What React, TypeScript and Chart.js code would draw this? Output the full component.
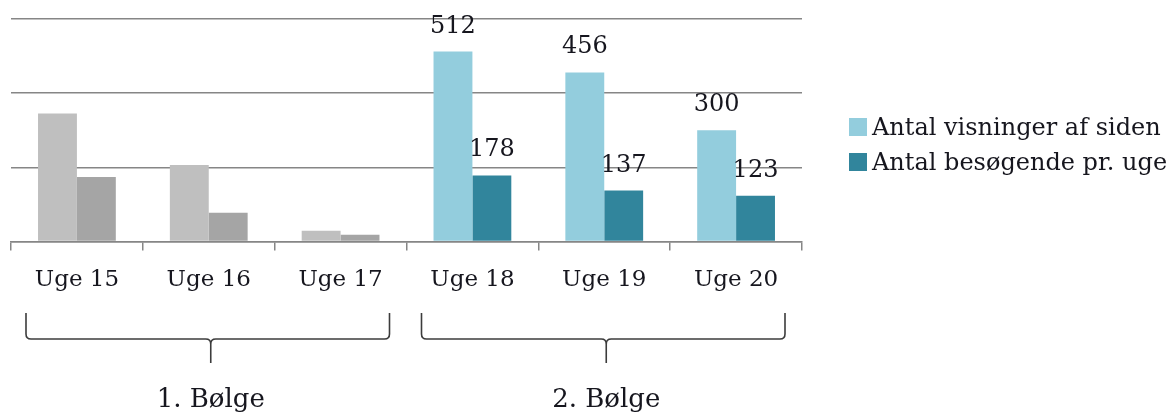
import React, { useEffect, useRef } from 'react';
import { Chart, registerables } from 'chart.js';

Chart.register(...registerables);

const categories = ['Uge 15', 'Uge 16', 'Uge 17', 'Uge 18', 'Uge 19', 'Uge 20'];
const visninger = [345, 206, 29, 512, 456, 300];
const besogende = [174, 77, 18, 178, 137, 123];
const seriesNames = ['Antal visninger af siden', 'Antal besøgende pr. uge'];
const groupLabels = ['1. Bølge', '2. Bølge'];
const groupStarts = [0, 3];
const groupEnds = [2, 5];
const yTicks = [0, 200, 400, 600];
const labelledFrom = 3;

const FONT = '"DejaVu Serif", serif';
const GRID = '#868686';
const TEXT = '#16161e';
const lightGrey = '#BFBFBF';
const darkGrey = '#A5A5A5';
const lightBlue = '#93CDDD';
const darkBlue = '#31859C';

const colorsFor = (past: string, cur: string) =>
  categories.map((_, i) => (i < labelledFrom ? past : cur));

const valueLabels = {
  id: 'valueLabels',
  afterDatasetsDraw(chart: any) {
    const ctx = chart.ctx;
    ctx.save();
    ctx.font = `24px ${FONT}`;
    ctx.fillStyle = TEXT;
    ctx.textAlign = 'center';
    ctx.textBaseline = 'alphabetic';
    chart.data.datasets.forEach((ds: any, di: number) => {
      const meta = chart.getDatasetMeta(di);
      meta.data.forEach((bar: any, i: number) => {
        if (i < labelledFrom) return;
        ctx.fillText(String(ds.data[i]), bar.x, bar.y - 19);
      });
    });
    ctx.restore();
  },
};

const brackets = {
  id: 'brackets',
  afterDraw(chart: any) {
    const ctx = chart.ctx;
    const x = chart.scales.x;
    const half = (x.getPixelForValue(1) - x.getPixelForValue(0)) / 2;
    const yTop = 313;
    const yMid = 339;
    const yTip = 363;
    const r = 5;
    ctx.save();
    ctx.strokeStyle = '#3c3c3c';
    ctx.lineWidth = 1.6;
    groupLabels.forEach((label, g) => {
      const left = x.getPixelForValue(groupStarts[g]) - half;
      const right = x.getPixelForValue(groupEnds[g]) + half;
      const x1 = left + 15;
      const x2 = right - 17;
      const cx = (left + right) / 2 + 2;
      ctx.beginPath();
      ctx.moveTo(x1, yTop);
      ctx.lineTo(x1, yMid - r);
      ctx.quadraticCurveTo(x1, yMid, x1 + r, yMid);
      ctx.lineTo(cx - r, yMid);
      ctx.quadraticCurveTo(cx, yMid, cx, yMid + r);
      ctx.lineTo(cx, yTip);
      ctx.moveTo(cx, yMid + r);
      ctx.quadraticCurveTo(cx, yMid, cx + r, yMid);
      ctx.lineTo(x2 - r, yMid);
      ctx.quadraticCurveTo(x2, yMid, x2, yMid - r);
      ctx.lineTo(x2, yTop);
      ctx.stroke();
      ctx.font = `26px ${FONT}`;
      ctx.fillStyle = TEXT;
      ctx.textAlign = 'center';
      ctx.textBaseline = 'alphabetic';
      ctx.fillText(label, cx, 407);
    });
    ctx.restore();
  },
};

const sideLegend = {
  id: 'sideLegend',
  afterDraw(chart: any) {
    const ctx = chart.ctx;
    ctx.save();
    ctx.font = `24px ${FONT}`;
    ctx.textAlign = 'left';
    ctx.textBaseline = 'alphabetic';
    const swatch = [lightBlue, darkBlue];
    chart.data.datasets.forEach((ds: any, i: number) => {
      const base = 135 + i * 35;
      ctx.fillStyle = swatch[i];
      ctx.fillRect(849, base - 17, 18, 18);
      ctx.fillStyle = TEXT;
      ctx.fillText(ds.label, 872, base);
    });
    ctx.restore();
  },
};

export default function App() {
  const ref = useRef<HTMLCanvasElement>(null);
  useEffect(() => {
    if (!ref.current) return;
    const chart = new Chart(ref.current, {
      type: 'bar',
      data: {
        labels: categories,
        datasets: [
          {
            label: seriesNames[0],
            data: visninger,
            backgroundColor: colorsFor(lightGrey, lightBlue),
            categoryPercentage: 0.59,
            barPercentage: 1,
          },
          {
            label: seriesNames[1],
            data: besogende,
            backgroundColor: colorsFor(darkGrey, darkBlue),
            categoryPercentage: 0.59,
            barPercentage: 1,
          },
        ],
      },
      options: {
        animation: false,
        responsive: false,
        maintainAspectRatio: false,
        layout: { padding: { left: 11, right: 374, top: 19, bottom: 106 } },
        plugins: { legend: { display: false }, tooltip: { enabled: false } },
        scales: {
          x: {
            grid: {
              display: true,
              offset: true,
              drawOnChartArea: false,
              drawTicks: true,
              tickLength: 9,
              color: GRID,
              lineWidth: 1.5,
            },
            border: { display: true, color: GRID, width: 1.5 },
            ticks: {
              color: TEXT,
              font: { family: FONT, size: 23 },
              padding: 16,
              maxRotation: 0,
            },
          },
          y: {
            min: yTicks[0],
            max: yTicks[yTicks.length - 1],
            afterBuildTicks: (s: any) => {
              s.ticks = yTicks.map((v) => ({ value: v }));
            },
            grid: { color: GRID, lineWidth: 1.5, drawTicks: false },
            border: { display: false },
            ticks: { display: false },
          },
        },
      },
      plugins: [valueLabels, brackets, sideLegend],
    });
    return () => chart.destroy();
  }, []);
  return (
    <div style={{ position: 'absolute', left: 0, top: 0, width: 1176, height: 416, background: '#fff' }}>
      <canvas ref={ref} width={1176} height={416} style={{ display: 'block' }} />
    </div>
  );
}
